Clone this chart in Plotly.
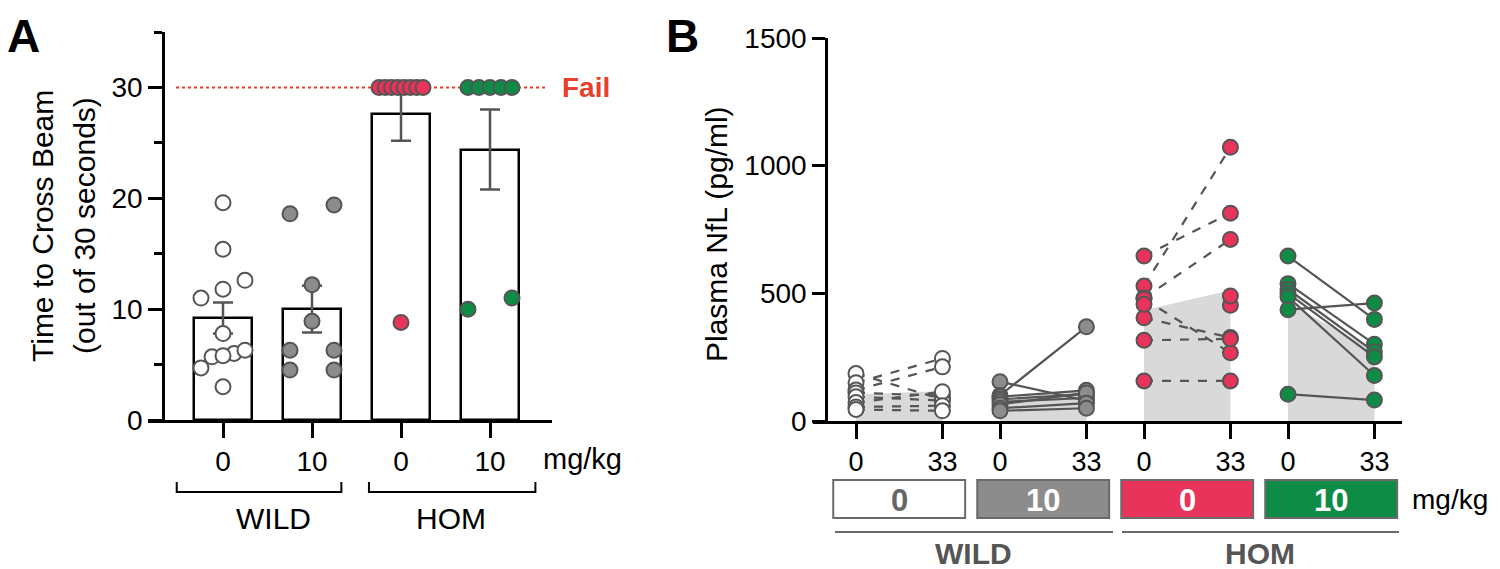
import plotly.graph_objects as go

W, H = 1500, 569
OFF = 8  # default page margin of the html body

# ---------------- Panel A data ----------------
A_tick_labels = ["0", "10", "0", "10"]
A_genotypes = ["WILD", "HOM"]
A_wild0 = [19.6, 15.4, 12.6, 11.8, 11.0, 7.8, 6.0, 5.7, 5.8, 6.3, 4.7, 3.0]
A_wild10 = [19.4, 18.6, 12.2, 8.9, 6.3, 6.3, 4.5, 4.5]
A_hom0 = [30, 30, 30, 30, 30, 30, 30, 30, 8.8]
A_hom10 = [30, 30, 30, 30, 30, 11.0, 10.0]
A_mean = [9.2, 10.0, 27.6, 24.4]
A_sem = [1.4, 2.1, 2.4, 3.6]
A_fail_value = 30

# ---------------- Panel B data ----------------
B_time_labels = ["0", "33"]
B_dose_labels = ["0", "10", "0", "10"]
B_genotypes = ["WILD", "HOM"]
B_wild0_d0 = [186, 150, 121, 110, 95, 72, 55, 45]
B_wild0_d33 = [85, 245, 212, 100, 80, 115, 60, 40]
B_wild10_d0 = [154, 100, 95, 85, 75, 65, 50, 40]
B_wild10_d33 = [80, 369, 120, 105, 90, 110, 70, 50]
B_hom0_d0 = [646, 529, 482, 478, 404, 316, 157, 457, None, None]
B_hom0_d33 = [814, 1072, 711, 267, 327, 322, 157, None, 453, 490]
B_hom10_d0 = [646, 538, 516, 500, 486, 436, 105]
B_hom10_d33 = [398, 301, 271, 251, 178, 462, 82]

# ---------------- styles ----------------
FONT = "Liberation Sans, Arial, Helvetica, sans-serif"
GROUP_COLORS = ["#ffffff", "#8c8c8c", "#e8335a", "#0e8b45"]
EDGE = "#555555"
LINE_DASH = ["dash", "solid", "dash", "solid"]
FAIL_RED = "#e8402e"

def px_x(p):
    return (p - OFF) / W

def px_y(p):
    return 1 - (p - OFF) / H

A_PPX, A_X0 = 89.0, 223.0
A_PPY = 11.1
A_xr = [(148 - A_X0) / A_PPX, (552 - A_X0) / A_PPX]
B_PPX, B_X0 = 144.0, 856.0
B_xr = [(813 - B_X0) / B_PPX, (1402 - B_X0) / B_PPX]
B_STEP = 0.6


def spread(vals, ppy, ppx, diam, maxhalf):
    """Prism-like dot spreading: chain points that overlap vertically into rows,
    then spread each row across the available width (lower values to the left)."""
    order = sorted(range(len(vals)), key=lambda i: -vals[i])
    clusters, cur = [], [order[0]]
    for a, b in zip(order, order[1:]):
        if (vals[a] - vals[b]) * ppy < diam:
            cur.append(b)
        else:
            clusters.append(cur)
            cur = [b]
    clusters.append(cur)
    out = [0.0] * len(vals)
    for c in clusters:
        n = len(c)
        if n == 1:
            continue
        c = sorted(c, key=lambda i: (vals[i], i))
        step = 2 * maxhalf / (n - 1)
        for k, i in enumerate(c):
            out[i] = (-maxhalf + k * step) / ppx
    return out


fig = go.Figure()

# ---------- Panel A ----------
fig.add_trace(go.Bar(
    x=list(range(4)), y=A_mean, width=0.65,
    marker=dict(color="white", line=dict(color="black", width=2.5)),
    error_y=dict(type="data", array=A_sem, color=EDGE, thickness=2.5, width=10),
    xaxis="x", yaxis="y", showlegend=False,
))

for i, vals in enumerate([A_wild0, A_wild10, A_hom0, A_hom10]):
    offs = spread(vals, A_PPY, A_PPX, 15, 22)
    fig.add_trace(go.Scatter(
        x=[i + o for o in offs], y=vals, mode="markers",
        marker=dict(size=15, color=GROUP_COLORS[i], line=dict(color=EDGE, width=2)),
        xaxis="x", yaxis="y", showlegend=False, cliponaxis=False,
    ))

# ---------- Panel B ----------
B_sets = [(B_wild0_d0, B_wild0_d33), (B_wild10_d0, B_wild10_d33),
          (B_hom0_d0, B_hom0_d33), (B_hom10_d0, B_hom10_d33)]


def nanmean(v):
    v = [a for a in v if a is not None]
    return sum(v) / len(v)

for g, (d0, d33) in enumerate(B_sets):
    m0, m1 = nanmean(d0), nanmean(d33)
    fig.add_trace(go.Scatter(
        x=[g, g + B_STEP, g + B_STEP, g], y=[m0, m1, 0, 0],
        fill="toself", fillcolor="#d9d9d9", mode="lines", line=dict(width=0),
        xaxis="x2", yaxis="y2", showlegend=False, hoverinfo="skip",
    ))

for g, (d0, d33) in enumerate(B_sets):
    xs, ys = [], []
    for a, b in zip(d0, d33):
        if a is None or b is None:
            continue
        xs += [g, g + B_STEP, None]
        ys += [a, b, None]
    fig.add_trace(go.Scatter(
        x=xs, y=ys, mode="lines",
        line=dict(color=EDGE, width=2.2, dash=LINE_DASH[g]),
        xaxis="x2", yaxis="y2", showlegend=False,
    ))

for g, (d0, d33) in enumerate(B_sets):
    xs, ys = [], []
    for a in d0:
        if a is not None:
            xs.append(g)
            ys.append(a)
    for b in d33:
        if b is not None:
            xs.append(g + B_STEP)
            ys.append(b)
    fig.add_trace(go.Scatter(
        x=xs, y=ys, mode="markers",
        marker=dict(size=15, color=GROUP_COLORS[g], line=dict(color=EDGE, width=2)),
        xaxis="x2", yaxis="y2", showlegend=False, cliponaxis=False,
    ))

# ---------- shapes ----------
shapes = []
shapes.append(dict(type="line", xref="x", yref="y", x0=(176 - A_X0) / A_PPX, x1=(548 - A_X0) / A_PPX,
                   y0=A_fail_value, y1=A_fail_value, layer="below",
                   line=dict(color=FAIL_RED, width=2, dash="dot")))
for (xa, xb) in [(-0.52, 1.33), (1.64, 3.51)]:
    shapes.append(dict(type="path", xref="x", yref="paper",
                       path=f"M {xa},{px_y(482)} L {xa},{px_y(492)} L {xb},{px_y(492)} L {xb},{px_y(482)}",
                       line=dict(color="black", width=2)))
for g in range(4):
    shapes.append(dict(type="rect", xref="x2", yref="paper",
                       x0=g + 0.3 - 0.458, x1=g + 0.3 + 0.458, y0=px_y(518), y1=px_y(480),
                       fillcolor=GROUP_COLORS[g], line=dict(color="#6a6a6a", width=2)))
for (xa, xb) in [(-0.146, 1.785), (1.847, 3.771)]:
    shapes.append(dict(type="line", xref="x2", yref="paper", x0=xa, x1=xb,
                       y0=px_y(532), y1=px_y(532), line=dict(color="#6a6a6a", width=2)))

# ---------- annotations ----------
ann = []
def text(x, y, s, size, color="black", bold=False, angle=0, xanchor="center", yanchor="middle"):
    ann.append(dict(x=px_x(x), y=px_y(y), xref="paper", yref="paper", text=(f"<b>{s}</b>" if bold else s),
                    showarrow=False, font=dict(family=FONT, size=size, color=color),
                    textangle=angle, xanchor=xanchor, yanchor=yanchor))

text(23, OFF, "A", 46, bold=True, yanchor="top")
text(682, OFF, "B", 46, bold=True, yanchor="top")
text(42, 226, "Time to Cross Beam", 30, angle=-90)
text(84, 226, "(out of 30 seconds)", 30, angle=-90)
text(716, 234, "Plasma NfL (pg/ml)", 30, angle=-90)
text(560, 87, "Fail", 28, color=FAIL_RED, bold=True, xanchor="left")
text(541, 459, "mg/kg", 29, xanchor="left")
text(273, 518, A_genotypes[0], 30)
text(451, 518, A_genotypes[1], 30)
text(1410, 499, "mg/kg", 28, xanchor="left")
text(973, 553, B_genotypes[0], 30, color="#555555", bold=True)
text(1260, 553, B_genotypes[1], 30, color="#555555", bold=True)
for g in range(4):
    cx = B_X0 + B_PPX * (g + 0.3)
    text(cx, 500, B_dose_labels[g], 31, color=("#666666" if g == 0 else "white"), bold=True)

axis_common = dict(showgrid=False, zeroline=False, showline=True, linecolor="black", linewidth=2.5,
                   ticks="outside", tickcolor="black", tickwidth=2.5, automargin=False,
                   tickfont=dict(family=FONT, size=28, color="black"))

fig.update_layout(
    width=W, height=H, autosize=False,
    margin=dict(l=0, r=0, t=0, b=0, pad=0),
    paper_bgcolor="white", plot_bgcolor="white",
    showlegend=False, bargap=0,
    xaxis=dict(domain=[px_x(148), px_x(552)], range=A_xr, anchor="y",
               tickvals=list(range(4)), ticktext=A_tick_labels, ticklen=15, **axis_common),
    yaxis=dict(domain=[px_y(420), px_y(32)], range=[0, 35], anchor="free", position=px_x(163),
               tickvals=[0, 10, 20, 30], ticklen=14,
               minor=dict(ticks="outside", ticklen=8, tickwidth=2.5, tickcolor="black", dtick=5, tick0=0, showgrid=False),
               **axis_common),
    xaxis2=dict(domain=[px_x(813), px_x(1402)], range=B_xr, anchor="y2",
                tickvals=[g + t * B_STEP for g in range(4) for t in range(2)],
                ticktext=[B_time_labels[t] for g in range(4) for t in range(2)], ticklen=15,
                **{**axis_common, "tickfont": dict(family=FONT, size=27, color="black")}),
    yaxis2=dict(domain=[px_y(421), px_y(38)], range=[0, 1500], anchor="free", position=px_x(826),
                tickvals=[0, 500, 1000, 1500], ticklen=13, **axis_common),
    shapes=shapes,
    annotations=ann,
)

fig.write_html("out.html")
